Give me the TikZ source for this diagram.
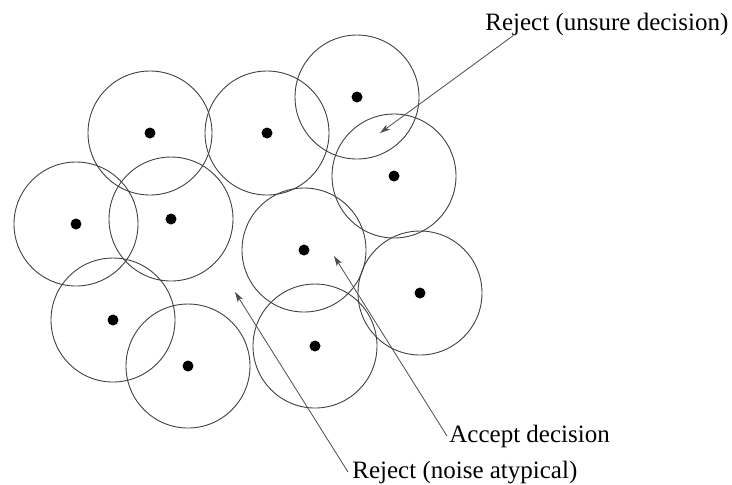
\documentclass[tikz,border=0pt]{standalone}
\usepackage{fontspec}
\setmainfont{Liberation Serif}
\usetikzlibrary{arrows.meta}

\begin{document}
\begin{tikzpicture}[x=0.5pt,y=-0.5pt,
  cell/.style={circle,draw=black!75,line width=0.45pt,minimum size=62pt,inner sep=0pt},
  centre/.style={circle,fill=black,minimum size=5.5pt,inner sep=0pt},
  note/.style={font=\fontsize{12.5}{15}\selectfont,inner sep=0pt,anchor=base west},
  pointer/.style={draw=black!70,line width=0.4pt,-{Stealth[length=5pt,width=3pt,inset=1.2pt]}}]
  \useasboundingbox (0,0) rectangle (732,484);

  % --- Class regions: one circle round each prototype ---
  \foreach \n/\x/\y in {1/150/133, 2/267/133, 3/357/97, 4/76/224, 5/171/219,
                        6/394/176, 7/304/250, 8/420/293, 9/113/320, 10/188/366, 11/315/346} {
    \node[cell] (c\n) at (\x,\y) {};
    \node[centre] (p\n) at (c\n.center) {};
  }

  % Points that the labels refer to
  \coordinate (amb) at (380,133);
  \coordinate (acc) at (334,256);
  \coordinate (gap) at (235,292);

  % --- Labels ---
  \node[note] (unsure) at (485,30) {Reject (unsure decision)};
  \node[note] (accept) at (449,442) {Accept decision};
  \node[note] (noise) at (352,478) {Reject (noise atypical)};

  % --- Pointers ---
  \draw[pointer] ([xshift=14pt]unsure.south west) -- (amb);
  \draw[pointer] ([xshift=-1pt]accept.west) -- (acc);
  \draw[pointer] ([xshift=-2pt]noise.west) -- (gap);
\end{tikzpicture}
\end{document}
